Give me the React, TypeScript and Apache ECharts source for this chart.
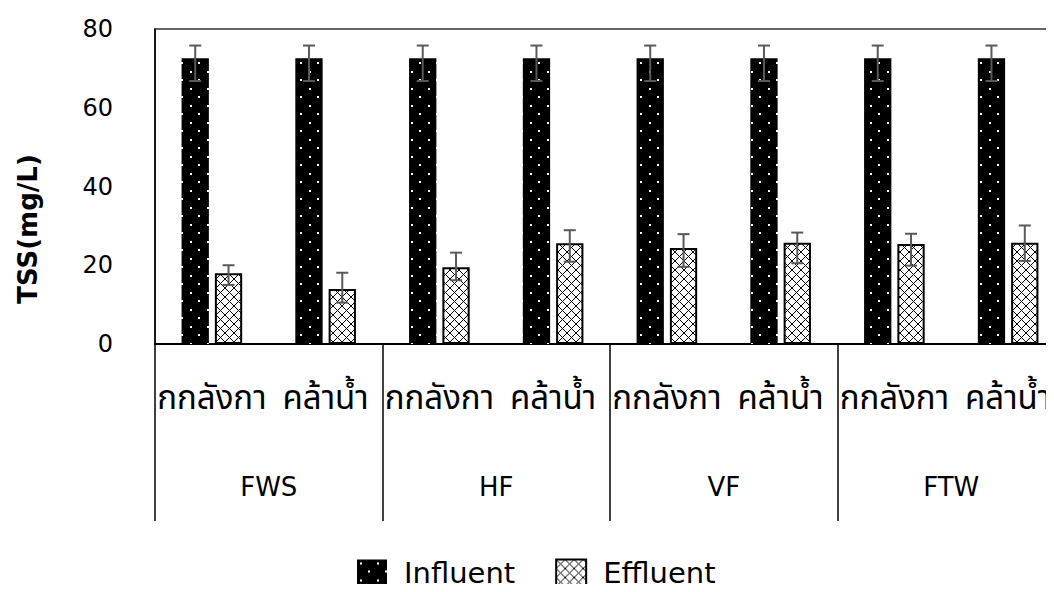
import React, { useEffect, useRef } from "react";
import * as echarts from "echarts";

const categories = ["กกลังกา", "คล้าน้ำ", "กกลังกา", "คล้าน้ำ", "กกลังกา", "คล้าน้ำ", "กกลังกา", "คล้าน้ำ"];
const groups = ["FWS", "HF", "VF", "FTW"];
const influent = [72.6, 72.6, 72.6, 72.6, 72.6, 72.6, 72.6, 72.6];
const influentLow = [66.8, 66.8, 66.8, 66.8, 66.8, 66.8, 66.8, 66.8];
const influentHigh = [75.8, 75.8, 75.8, 75.8, 75.8, 75.8, 75.8, 75.8];
const effluent = [18.0, 14.0, 19.5, 25.6, 24.4, 25.7, 25.4, 25.7];
const effluentLow = [15.0, 10.5, 16.2, 20.9, 19.6, 20.5, 19.9, 21.1];
const effluentHigh = [20.0, 18.1, 23.2, 28.9, 27.9, 28.3, 28.0, 30.1];
const yTicks = [0, 20, 40, 60, 80];

const THAI_FONT = '"Noto Sans Thai", "Noto Sans Thai UI", Tahoma, sans-serif';
const LATIN_FONT = '"DejaVu Sans", "Noto Sans", sans-serif';

function makeDots() {
  const c = document.createElement("canvas");
  c.width = 17;
  c.height = 17;
  const ctx = c.getContext("2d")!;
  ctx.fillStyle = "#000";
  ctx.fillRect(0, 0, 17, 17);
  ctx.fillStyle = "#fff";
  ctx.fillRect(3, 3, 2, 2);
  ctx.fillRect(11, 11, 2, 2);
  return { image: c, repeat: "repeat", imageWidth: 17, imageHeight: 17 } as any;
}

function makeCross() {
  const s = 9;
  const c = document.createElement("canvas");
  c.width = s;
  c.height = s;
  const ctx = c.getContext("2d")!;
  ctx.fillStyle = "#fff";
  ctx.fillRect(0, 0, s, s);
  ctx.strokeStyle = "#000";
  ctx.lineWidth = 1;
  ctx.beginPath();
  ctx.moveTo(0, 0);
  ctx.lineTo(s, s);
  ctx.moveTo(s, 0);
  ctx.lineTo(0, s);
  ctx.stroke();
  return { image: c, repeat: "repeat", imageWidth: s, imageHeight: s } as any;
}

const BAR_W = 0.24;
const BAR_GAP = 0.22;
const OFFSET = (BAR_W + BAR_W * BAR_GAP) / 2;

function errSeries(low: number[], high: number[], sign: number) {
  return {
    type: "custom",
    xAxisIndex: 0,
    yAxisIndex: 0,
    z: 10,
    silent: true,
    data: low.map((l, i) => [i, l, high[i]]),
    renderItem: (params: any, api: any) => {
      const xi = api.value(0);
      const band = api.size([1, 0])[0];
      const top = api.coord([xi, api.value(2)]);
      const bot = api.coord([xi, api.value(1)]);
      const x = top[0] + sign * OFFSET * band;
      const hw = 6;
      const style = { stroke: "#595959", lineWidth: 2 };
      return {
        type: "group",
        children: [
          { type: "line", shape: { x1: x, y1: top[1], x2: x, y2: bot[1] }, style },
          { type: "line", shape: { x1: x - hw, y1: top[1], x2: x + hw, y2: top[1] }, style },
          { type: "line", shape: { x1: x - hw, y1: bot[1], x2: x + hw, y2: bot[1] }, style },
        ],
      };
    },
  };
}

export default function App() {
  const ref = useRef<HTMLDivElement>(null);
  useEffect(() => {
    if (!ref.current) return;
    const chart = echarts.init(ref.current, null, { renderer: "svg" });
    const dots = makeDots();
    const cross = makeCross();
    chart.setOption({
      animation: false,
      backgroundColor: "#fff",
      grid: {
        left: 155,
        top: 29,
        width: 910,
        height: 315,
        show: true,
        borderColor: "#333",
        borderWidth: 1.5,
        backgroundColor: "transparent",
        outerBoundsMode: "none",
        containLabel: false,
      },
      legend: {
        bottom: 0,
        left: 352,
        icon: "rect",
        itemWidth: 30,
        itemHeight: 26,
        itemGap: 40,
        textStyle: { fontSize: 29, fontFamily: LATIN_FONT, color: "#000", padding: [0, 0, 0, 12] },
        data: ["Influent", "Effluent"],
      },
      graphic: [
        {
          type: "text",
          x: 28,
          y: 229,
          rotation: Math.PI / 2,
          style: {
            text: "TSS(mg/L)",
            fontSize: 26,
            fontWeight: "bold",
            fontFamily: LATIN_FONT,
            fill: "#000",
            align: "center",
            verticalAlign: "middle",
          },
        },
      ],
      xAxis: [
        {
          type: "category",
          data: categories,
          position: "bottom",
          axisLine: { show: true, lineStyle: { color: "#000", width: 2 } },
          axisTick: { show: false },
          axisLabel: {
            interval: 0,
            fontSize: 33,
            fontFamily: THAI_FONT,
            color: "#000",
            margin: 38,
          },
        },
        {
          type: "category",
          data: groups,
          position: "bottom",
          axisLine: { show: false },
          axisTick: { show: true, length: 177, interval: 0, lineStyle: { color: "#000", width: 1.5 } },
          axisLabel: {
            interval: 0,
            fontSize: 26,
            fontFamily: LATIN_FONT,
            color: "#000",
            margin: 130,
          },
        },
      ],
      yAxis: {
        type: "value",
        min: yTicks[0],
        max: yTicks[yTicks.length - 1],
        interval: 20,
        axisLine: { show: true, lineStyle: { color: "#000", width: 1.5 } },
        axisTick: { show: false },
        splitLine: { show: false },
        axisLabel: { fontSize: 24, fontFamily: LATIN_FONT, color: "#000", margin: 42 },
      },
      series: [
        {
          name: "Influent",
          type: "bar",
          data: influent,
          barWidth: BAR_W * 100 + "%",
          barGap: BAR_GAP * 100 + "%",
          itemStyle: { color: dots, borderColor: "#000", borderWidth: 0 },
        },
        {
          name: "Effluent",
          type: "bar",
          data: effluent,
          barWidth: BAR_W * 100 + "%",
          barGap: BAR_GAP * 100 + "%",
          itemStyle: { color: cross, borderColor: "#000", borderWidth: 2 },
        },
        errSeries(influentLow, influentHigh, -1),
        errSeries(effluentLow, effluentHigh, 1),
      ],
    });
    return () => chart.dispose();
  }, []);
  return <div ref={ref} style={{ width: 1054, height: 592, margin: -8 }} />;
}
